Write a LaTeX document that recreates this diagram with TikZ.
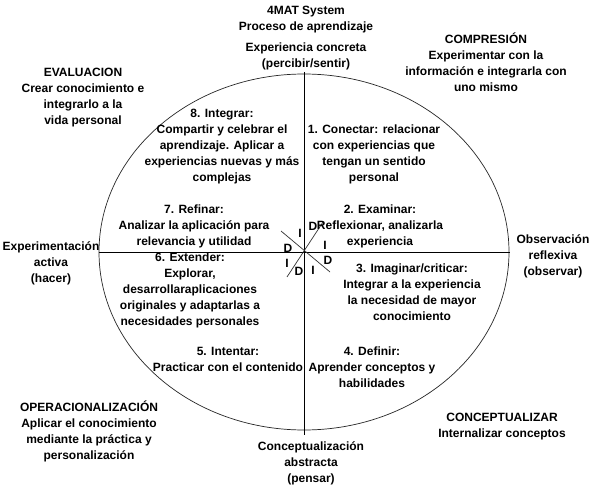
\documentclass[tikz,border=0pt]{standalone}
\usepackage{fontspec}
\setmainfont{Liberation Sans}
\begin{document}
\begin{tikzpicture}[x=1pt,y=-1pt,
  lbl/.style={font=\bfseries\fontsize{12}{16}\selectfont, align=center, inner sep=0pt},
  axis/.style={line width=0.8pt, black},
  diag/.style={line width=0.7pt, black!80}]
\useasboundingbox[fill=white] (0,0) rectangle (592,487);
% ellipse
\draw[line width=0.7pt, black!85] (304,252) ellipse [x radius=205, y radius=178];
% axes
\coordinate (vt) at (304,72);
\coordinate (vb) at (304,435);
\coordinate (hl) at (99,252);
\coordinate (hr) at (510,252);
\draw[axis] (vt) -- (vb);
\draw[axis] (hl) -- (hr);
\coordinate (d1a) at (281,231);
\coordinate (d1b) at (330,272);
\coordinate (d2a) at (323,222);
\coordinate (d2b) at (287,277);
\draw[diag] (d1a) -- (d1b);
\draw[diag] (d2a) -- (d2b);
% I / D letters
\node[lbl] (l1) at (300,233) {I};
\node[lbl] (l2) at (313,226) {D};
\node[lbl] (l3) at (288,248) {D};
\node[lbl] (l4) at (325,245) {I};
\node[lbl] (l5) at (287,263) {I};
\node[lbl] (l6) at (299,271) {D};
\node[lbl] (l7) at (313,270) {I};
\node[lbl] (l8) at (328,260) {D};
% texts
\node[lbl] (title) at (306,20) {4MAT System\\Proceso de aprendizaje};
\node[lbl] (ce) at (306,56.5) {Experiencia concreta\\(percibir/sentir)};
\node[lbl] (comp) at (486,62.5) {COMPRESIÓN\\Experimentar con la\\información e integrarla con\\uno mismo};
\node[lbl] (eval) at (83,98) {EVALUACION\\Crear conocimiento e\\integrarlo a la\\vida personal};
\node[lbl] (n8) at (222,147) {8. Integrar:\\Compartir y celebrar el\\aprendizaje. Aplicar a\\experiencias nuevas y más\\complejas};
\node[lbl] (n1) at (374,154.5) {1. Conectar: relacionar\\con experiencias que\\tengan un sentido\\personal};
\node[lbl] (n2) at (380,226) {2. Examinar:\\Reflexionar, analizarla\\experiencia};
\node[lbl] (n7) at (194,226) {7. Refinar:\\Analizar la aplicación para\\relevancia y utilidad};
\node[lbl] (n6) at (190,290) {6. Extender:\\Explorar,\\desarrollaraplicaciones\\originales y adaptarlas a\\necesidades personales};
\node[lbl] (n3) at (412,292) {3. Imaginar/criticar:\\Integrar a la experiencia\\la necesidad de mayor\\conocimiento};
\node[lbl] (n5) at (228,359) {5. Intentar:\\Practicar con el contenido};
\node[lbl] (n4) at (372,367) {4. Definir:\\Aprender conceptos y\\habilidades};
\node[lbl] (ea) at (51,263) {Experimentación\\activa\\(hacer)};
\node[lbl] (obs) at (553,256) {Observación\\reflexiva\\(observar)};
\node[lbl] (oper) at (89,431) {OPERACIONALIZACIÓN\\Aplicar el conocimiento\\mediante la práctica y\\personalización};
\node[lbl] (concep) at (502,426.5) {CONCEPTUALIZAR\\Internalizar conceptos};
\node[lbl] (ca) at (311,463) {Conceptualización\\abstracta\\(pensar)};
\end{tikzpicture}
\end{document}
